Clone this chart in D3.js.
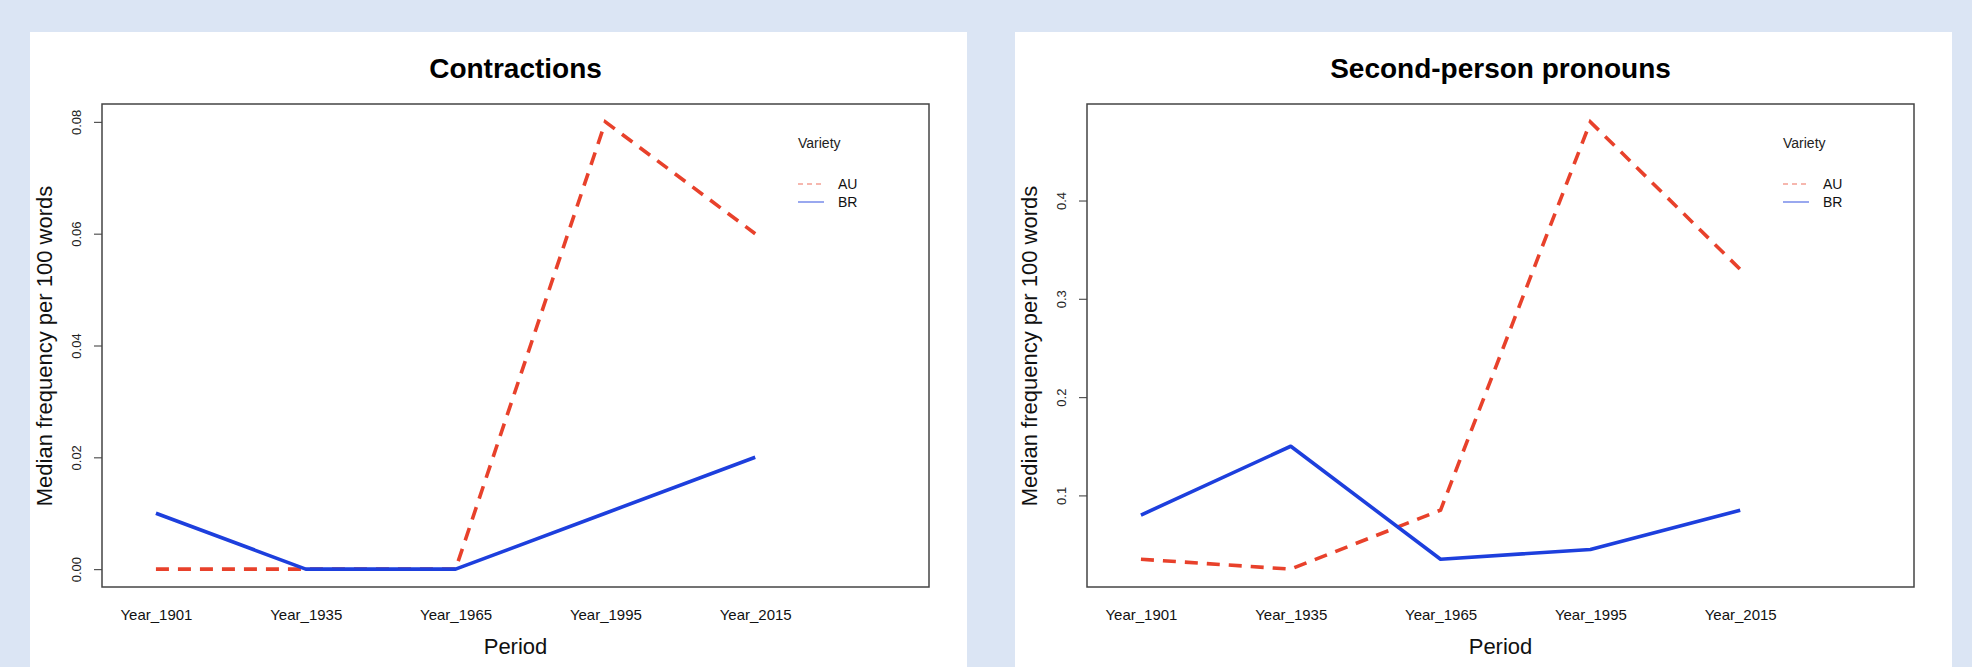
<!DOCTYPE html>
<html>
<head>
<meta charset="utf-8">
<script src="https://cdn.jsdelivr.net/npm/d3@7"></script>
<style>
  body { margin: 0; background: #dbe5f4; }
  svg { display: block; font-family: "Liberation Sans", Arial, sans-serif; }
</style>
</head>
<body>
<svg id="chart" width="1972" height="667"></svg>
<script>
// data
var periods = ["Year_1901", "Year_1935", "Year_1965", "Year_1995", "Year_2015"];
var varieties = ["AU", "BR"];

var contractionsAU = [0, 0, 0, 0.08, 0.06];
var contractionsBR = [0.01, 0, 0, 0.01, 0.02];
var contractionsTicks = [0, 0.02, 0.04, 0.06, 0.08];

var pronounsAU = [0.035, 0.025, 0.085, 0.48, 0.33];
var pronounsBR = [0.08, 0.15, 0.035, 0.045, 0.085];
var pronounsTicks = [0.1, 0.2, 0.3, 0.4];

var colors = { AU: "#e8412b", BR: "#1d3fdd" };

var svg = d3.select("#chart");
svg.append("rect").attr("width", 1972).attr("height", 667).attr("fill", "#dbe5f4");

function drawPanel(x0, title, au, br, ticks, fmt) {
    var g = svg.append("g").attr("transform", "translate(" + x0 + ",0)");
    g.append("rect").attr("x", 0).attr("y", 32).attr("width", 937).attr("height", 640).attr("fill", "#fff");

    var box = { left: 72, right: 899, top: 104, bottom: 587 };

    // R style: index scale 1..5 with extra room on the right for the legend
    var xScale = d3.scaleLinear().domain([0.64, 6.16]).range([box.left, box.right]);
    var all = au.concat(br);
    var ext = d3.extent(all);
    var pad = (ext[1] - ext[0]) * 0.04;
    var yScale = d3.scaleLinear().domain([ext[0] - pad, ext[1] + pad]).range([box.bottom, box.top]);

    // y axis, rotated labels
    var yAxis = g.append("g").attr("transform", "translate(" + box.left + ",0)")
        .call(d3.axisLeft(yScale).tickValues(ticks).tickSize(8).tickFormat(fmt));
    yAxis.select(".domain").remove();
    yAxis.selectAll(".tick line").attr("stroke", "#555").attr("stroke-width", 1.2);
    yAxis.selectAll(".tick text")
        .attr("x", 0).attr("dy", 0)
        .attr("transform", "translate(-24,0) rotate(-90)")
        .attr("text-anchor", "middle")
        .attr("dominant-baseline", "middle")
        .style("font-size", "13px")
        .style("font-family", "Liberation Sans, Arial, sans-serif")
        .attr("fill", "#222");

    // x axis: labels only
    var xAxis = g.append("g").attr("transform", "translate(0," + box.bottom + ")")
        .call(d3.axisBottom(xScale).tickValues([1, 2, 3, 4, 5]).tickSize(0).tickPadding(22)
            .tickFormat(function(d) { return periods[d - 1]; }));
    xAxis.select(".domain").remove();
    xAxis.selectAll(".tick text")
        .style("font-size", "15px")
        .style("font-family", "Liberation Sans, Arial, sans-serif")
        .attr("fill", "#111");

    var line = d3.line()
        .x(function(d, i) { return xScale(i + 1); })
        .y(function(d) { return yScale(d); });

    g.append("path").datum(au)
        .attr("d", line).attr("fill", "none")
        .attr("stroke", colors.AU).attr("stroke-width", 3.6)
        .attr("stroke-dasharray", "13,9");
    g.append("path").datum(br)
        .attr("d", line).attr("fill", "none")
        .attr("stroke", colors.BR).attr("stroke-width", 3.6)
        .attr("stroke-linejoin", "round");

    // frame
    g.append("rect")
        .attr("x", box.left).attr("y", box.top)
        .attr("width", box.right - box.left).attr("height", box.bottom - box.top)
        .attr("fill", "none").attr("stroke", "#444").attr("stroke-width", 1.5);

    // title + axis labels
    var cx = (box.left + box.right) / 2;
    g.append("text").attr("x", cx).attr("y", 78).attr("text-anchor", "middle")
        .style("font-size", "28px").style("font-weight", "bold").attr("fill", "#000")
        .text(title);
    g.append("text").attr("x", cx).attr("y", 654).attr("text-anchor", "middle")
        .style("font-size", "22px").attr("fill", "#111").text("Period");
    g.append("text")
        .attr("transform", "translate(16,346) rotate(-90)")
        .attr("text-anchor", "middle").attr("dominant-baseline", "middle")
        .style("font-size", "22px").attr("fill", "#111")
        .text("Median frequency per 100 words");

    // legend
    var lx = box.right - 131;
    g.append("text").attr("x", lx).attr("y", 148).style("font-size", "14px").attr("fill", "#222").text("Variety");
    varieties.forEach(function(v, i) {
        var ly = 184 + i * 18;
        g.append("line").attr("x1", lx).attr("x2", lx + 26).attr("y1", ly).attr("y2", ly)
            .attr("stroke", colors[v]).attr("stroke-width", 1.2).attr("opacity", 0.75)
            .attr("stroke-dasharray", v === "AU" ? "5,4" : null);
        g.append("text").attr("x", lx + 40).attr("y", ly + 5).style("font-size", "14px")
            .attr("fill", "#111").text(v);
    });
}

drawPanel(30, "Contractions", contractionsAU, contractionsBR, contractionsTicks, d3.format(".2f"));
drawPanel(1015, "Second-person pronouns", pronounsAU, pronounsBR, pronounsTicks, d3.format(".1f"));
</script>
</body>
</html>
